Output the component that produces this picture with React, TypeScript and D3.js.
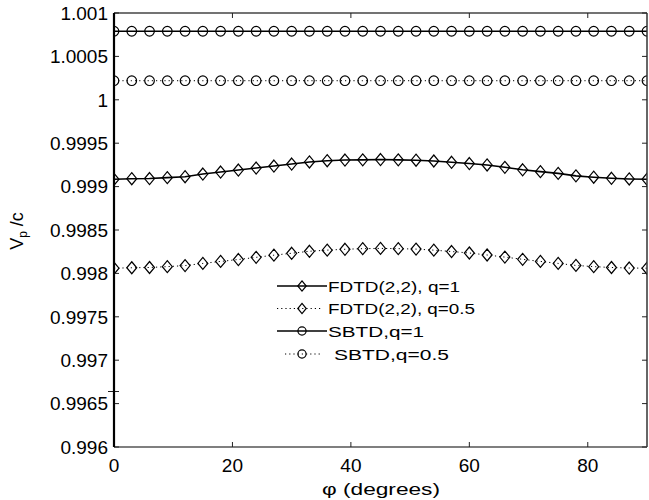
import React from "react";
import * as d3 from "d3";

const phi = [0, 3, 6, 9, 12, 15, 18, 21, 24, 27, 30, 33, 36, 39, 42, 45, 48, 51, 54, 57, 60, 63, 66, 69, 72, 75, 78, 81, 84, 87, 90];

const fdtdQ1 = [
  0.999084, 0.999091, 0.999093, 0.999103, 0.999114, 0.999145, 0.999168, 0.999191, 0.999214, 0.999237,
  0.99926, 0.999284, 0.999298, 0.999306, 0.999308, 0.999312, 0.999308, 0.999304, 0.999295, 0.99928,
  0.999266, 0.999249, 0.999222, 0.999194, 0.999172, 0.999152, 0.999124, 0.999108, 0.999096, 0.999088, 0.999084,
];

const fdtdQ05 = [
  0.99806, 0.998065, 0.998068, 0.998078, 0.99809, 0.998115, 0.998138, 0.99816, 0.998185, 0.99821,
  0.998232, 0.998255, 0.998268, 0.998278, 0.998285, 0.998288, 0.998285, 0.99828, 0.998268, 0.998252,
  0.998235, 0.998212, 0.998188, 0.998162, 0.998138, 0.998115, 0.998092, 0.998078, 0.998068, 0.998062, 0.99806,
];

const sbtdQ1 = [
  1.00079, 1.00079, 1.00079, 1.00079, 1.00079, 1.00079, 1.00079, 1.00079, 1.00079, 1.00079,
  1.00079, 1.00079, 1.00079, 1.00079, 1.00079, 1.00079, 1.00079, 1.00079, 1.00079, 1.00079,
  1.00079, 1.00079, 1.00079, 1.00079, 1.00079, 1.00079, 1.00079, 1.00079, 1.00079, 1.00079, 1.00079,
];

const sbtdQ05 = [
  1.00022, 1.00022, 1.00022, 1.00022, 1.00022, 1.00022, 1.00022, 1.00022, 1.00022, 1.00022,
  1.00022, 1.00022, 1.00022, 1.00022, 1.00022, 1.00022, 1.00022, 1.00022, 1.00022, 1.00022,
  1.00022, 1.00022, 1.00022, 1.00022, 1.00022, 1.00022, 1.00022, 1.00022, 1.00022, 1.00022, 1.00022,
];

const xTicks = [0, 20, 40, 60, 80];
const yTicks = [0.996, 0.9965, 0.997, 0.9975, 0.998, 0.9985, 0.999, 0.9995, 1, 1.0005, 1.001];
const yTickLabels = ["0.996", "0.9965", "0.997", "0.9975", "0.998", "0.9985", "0.999", "0.9995", "1", "1.0005", "1.001"];

const legendLabels = ["FDTD(2,2), q=1", "FDTD(2,2), q=0.5", "SBTD,q=1", "SBTD,q=0.5"];
const legendTextWidths = [132, 147, 96, 115];

const L = 114, R = 647, T = 13, B = 447;
const FONT = "'Liberation Sans', Arial, Helvetica, sans-serif";

const diamond = "M0,-6L5,0L0,6L-5,0Z";

function Marker({ kind, x, y, s = 1 }: { kind: string; x: number; y: number; s?: number }) {
  if (kind === "d")
    return <path d={diamond} transform={`translate(${x},${y}) scale(${s})`} fill="none" stroke="#000" strokeWidth={1.2 / s} />;
  return <circle cx={x} cy={y} r={4.8 * s} fill="none" stroke="#000" strokeWidth={1.2} />;
}

export default function App() {
  const x = d3.scaleLinear().domain([0, 90]).range([L, R]);
  const y = d3.scaleLinear().domain([0.996, 1.001]).range([B, T]);

  const series = [
    { vals: fdtdQ1, dash: null, kind: "d" },
    { vals: fdtdQ05, dash: "1.2,3", kind: "d" },
    { vals: sbtdQ1, dash: null, kind: "c" },
    { vals: sbtdQ05, dash: "1.2,3", kind: "c" },
  ];

  const line = d3
    .line<number>()
    .x((_, i) => x(phi[i]))
    .y((v) => y(v));

  const legendY = [286, 308.5, 331, 354];
  const legendX1 = [277, 277, 277, 285];
  const legendX2 = [327, 322, 327, 322];

  return (
    <svg width={649} height={500} style={{ position: "absolute", left: 0, top: 0, background: "#fff" }} fontFamily={FONT}>
      <rect x={0} y={0} width={649} height={500} fill="#fff" />
      <defs>
        <clipPath id="plotclip">
          <rect x={L} y={T} width={R - L} height={B - T} />
        </clipPath>
      </defs>

      {/* series */}
      <g clipPath="url(#plotclip)">
        {series.map((s, si) => (
          <g key={"s" + si}>
            <path
              d={line(s.vals) || ""}
              fill="none"
              stroke="#000"
              strokeWidth={s.dash ? 1 : 1.6}
              strokeDasharray={s.dash || undefined}
            />
            {s.vals.map((v, i) => (
              <Marker key={i} kind={s.kind} x={x(phi[i])} y={y(v)} />
            ))}
          </g>
        ))}
      </g>

      {/* frame */}
      <line x1={L} y1={T} x2={R} y2={T} stroke="#444" strokeWidth={1.3} />
      <line x1={R} y1={T} x2={R} y2={B} stroke="#333" strokeWidth={1.5} />
      <line x1={L} y1={B} x2={R} y2={B} stroke="#555" strokeWidth={1.6} />

      {/* ticks */}
      {xTicks.map((t) => (
        <g key={"xt" + t}>
          <line x1={x(t)} x2={x(t)} y1={B} y2={B - 5} stroke="#222" strokeWidth={1} />
          <line x1={x(t)} x2={x(t)} y1={T} y2={T + 5} stroke="#222" strokeWidth={1} />
          <text x={x(t)} y={472} textAnchor="middle" fontSize={19} fill="#000">
            {t}
          </text>
        </g>
      ))}
      {yTicks.map((t, i) => (
        <g key={"yt" + i}>
          <line x1={L} x2={L + 5} y1={y(t)} y2={y(t)} stroke="#222" strokeWidth={1} />
          <line x1={R} x2={R - 5} y1={y(t)} y2={y(t)} stroke="#222" strokeWidth={1} />
          <text x={108} y={y(t)} dy="0.36em" textAnchor="end" fontSize={19} fill="#000">
            {yTickLabels[i]}
          </text>
        </g>
      ))}
      {/* stray mark on the left axis */}
      <line x1={L - 6} x2={L + 5} y1={391.5} y2={391.5} stroke="#222" strokeWidth={1} />

      <line x1={L} y1={T} x2={L} y2={B} stroke="#000" strokeWidth={2.2} />

      {/* legend */}
      {series.map((s, i) => {
        const ly = legendY[i];
        return (
          <g key={"lg" + i}>
            <line
              x1={legendX1[i]}
              x2={legendX2[i]}
              y1={ly}
              y2={ly}
              stroke="#000"
              strokeWidth={s.dash ? 1 : 1.6}
              strokeDasharray={s.dash || undefined}
            />
            <Marker kind={s.kind} x={302} y={ly} s={0.85} />
            <text
              x={328 + (i === 3 ? 6 : 0)}
              y={ly + 5.5}
              fontSize={15.5}
              textLength={legendTextWidths[i]}
              lengthAdjust="spacingAndGlyphs"
              fill="#000"
            >
              {legendLabels[i]}
            </text>
          </g>
        );
      })}

      {/* axis labels */}
      <text x={381} y={495} textAnchor="middle" fontSize={17} textLength={118} lengthAdjust="spacingAndGlyphs" fill="#000">
        φ (degrees)
      </text>
      <text transform={`translate(23,231) rotate(-90)`} textAnchor="middle" fontSize={18} fill="#000">
        V<tspan fontSize={12} dy={4}>p</tspan>
        <tspan dy={-4}> /c</tspan>
      </text>
    </svg>
  );
}
